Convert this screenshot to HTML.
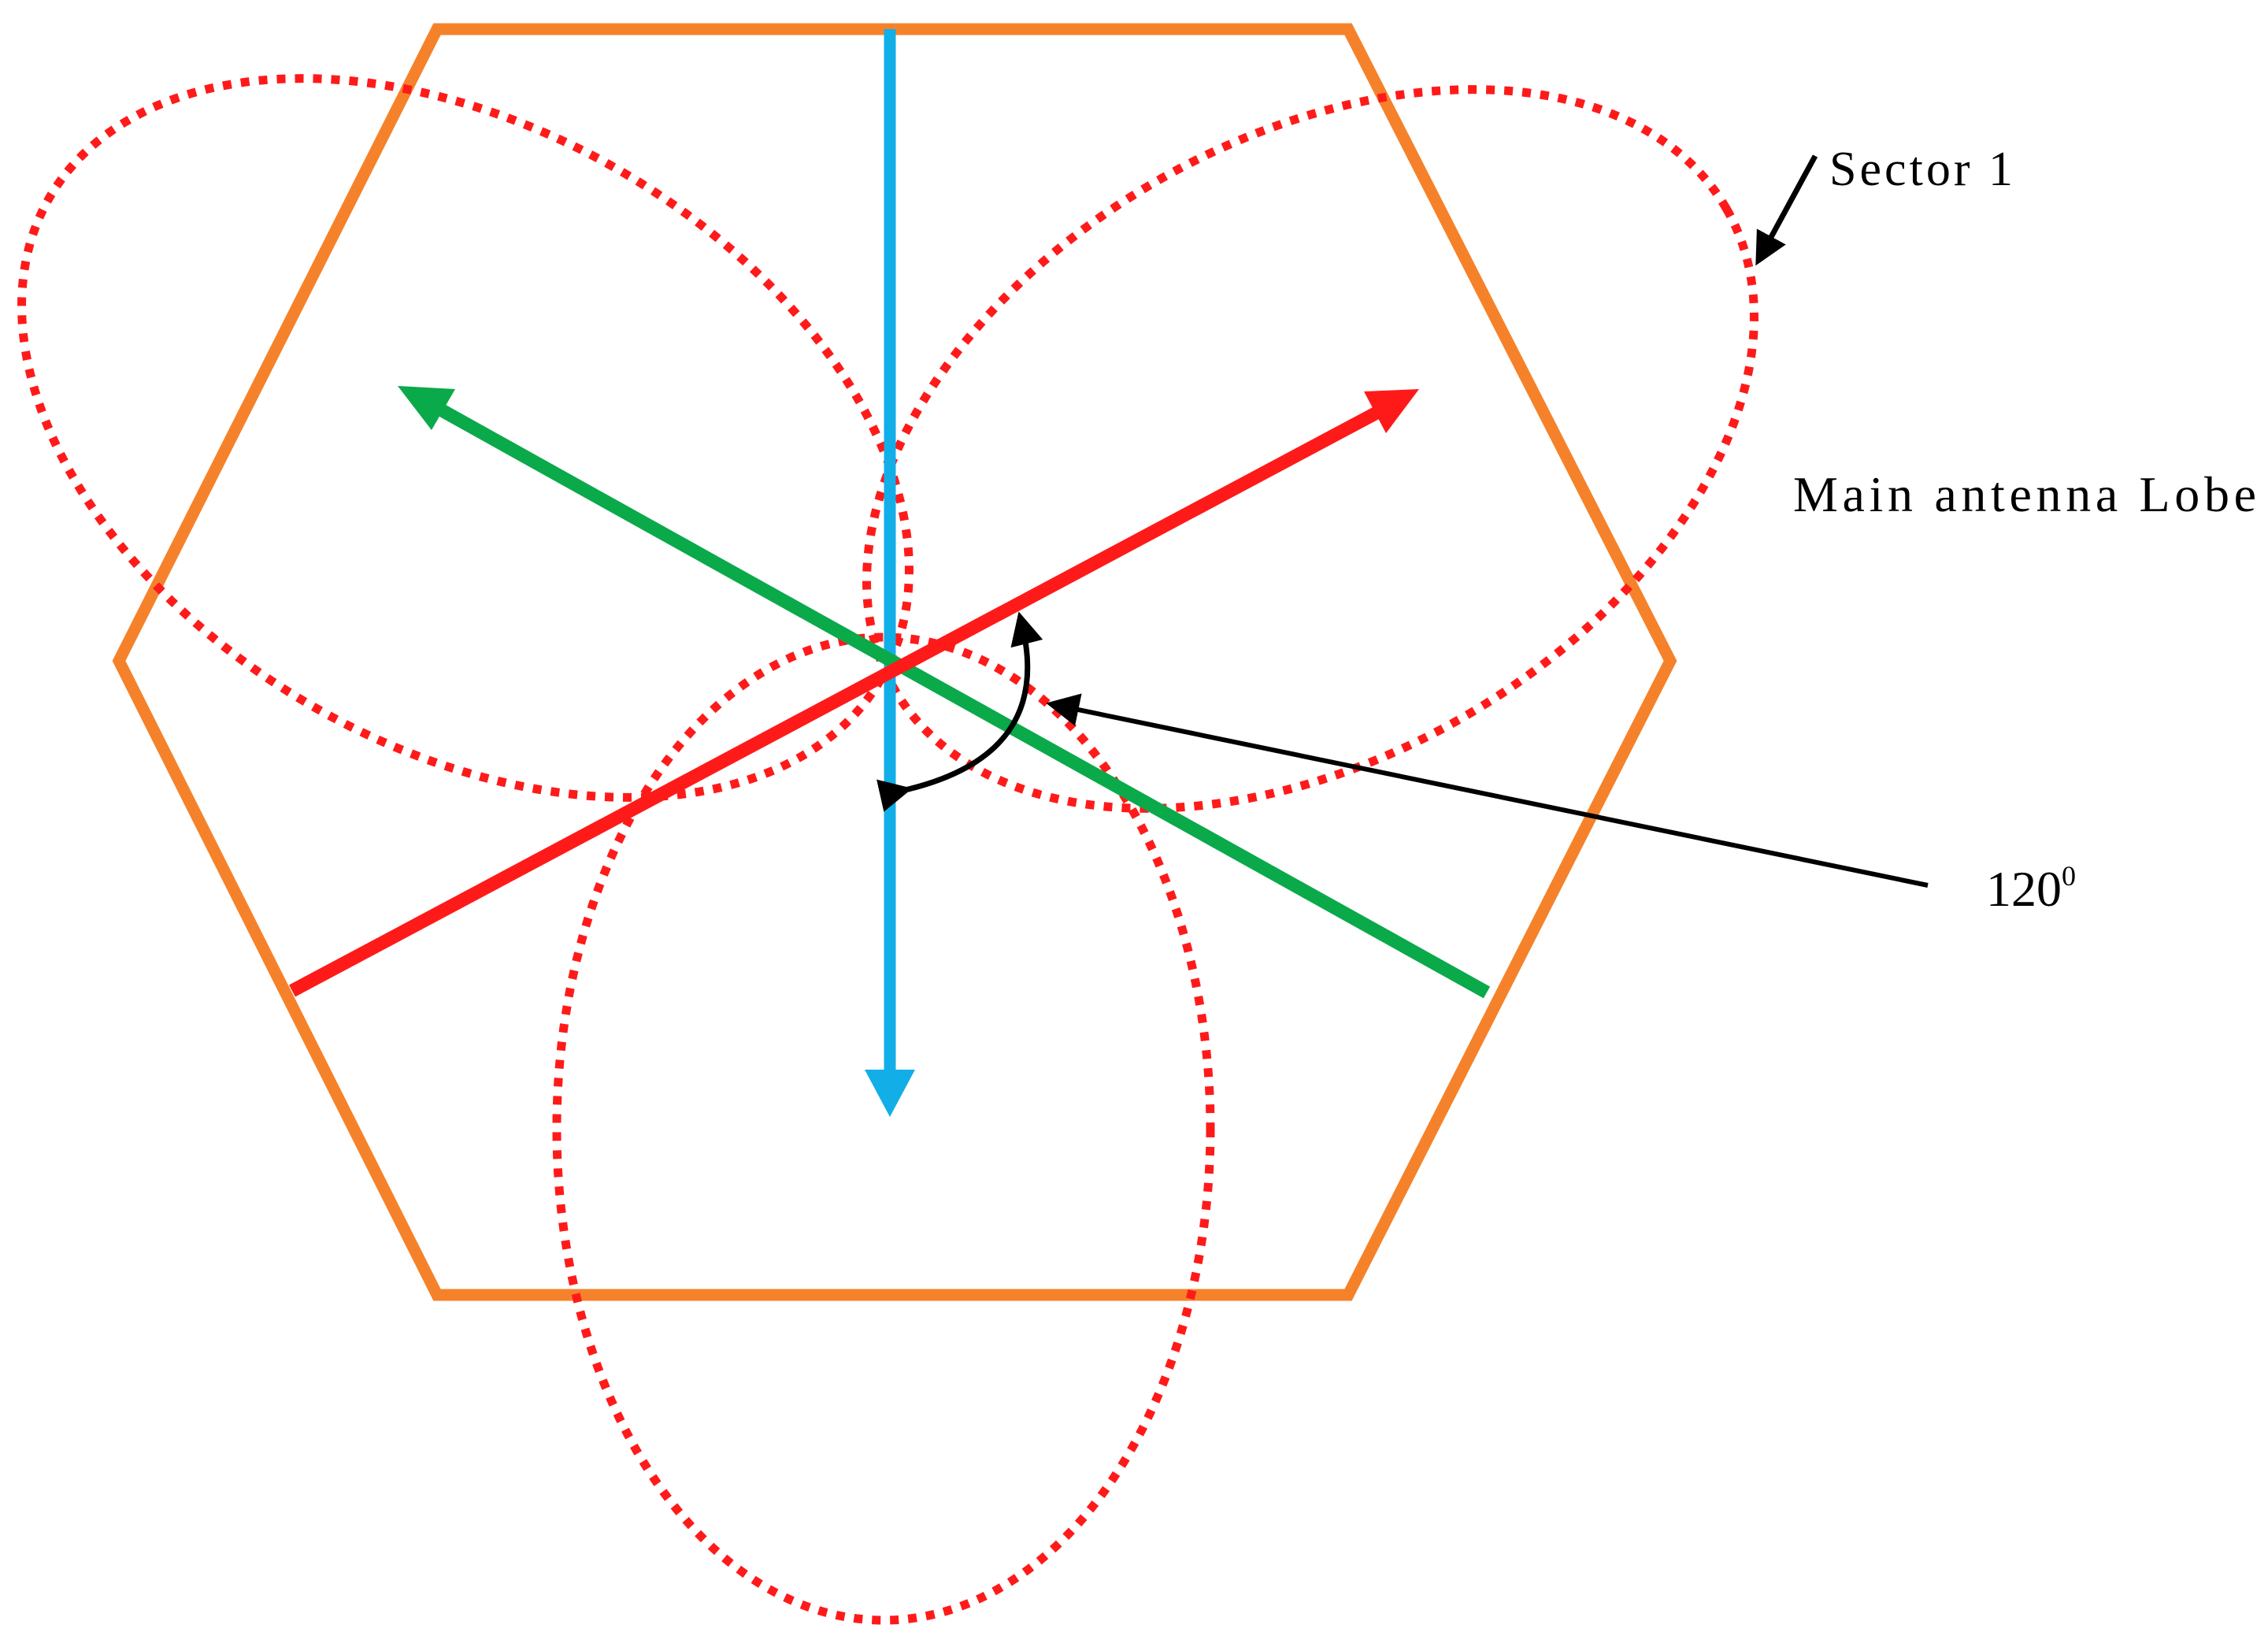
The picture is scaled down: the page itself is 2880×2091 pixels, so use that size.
<!DOCTYPE html>
<html><head><meta charset="utf-8"><style>html,body{margin:0;padding:0;background:#fff}svg{display:block}</style></head>
<body>
<svg width="2880" height="2091" viewBox="0 0 2880 2091" xmlns="http://www.w3.org/2000/svg">
<defs>
<marker id="ab" markerWidth="6" markerHeight="6" refX="4" refY="3" orient="auto" markerUnits="strokeWidth"><path d="M0,0 L6,3 L0,6 Z" fill="#000"/></marker>
<marker id="ab2" markerWidth="7" markerHeight="7" refX="5" refY="3.5" orient="auto" markerUnits="strokeWidth"><path d="M0,0 L7,3.5 L0,7 Z" fill="#000"/></marker>
</defs>
<polygon points="555,37 1712,37 2121,839 1712,1644 555,1644 151,839" fill="none" stroke="#f5822a" stroke-width="15"/>
<g fill="none" stroke="#ff1a1a" stroke-width="11" stroke-dasharray="11 12">
<ellipse cx="0" cy="0" rx="610" ry="392" transform="translate(591,556) rotate(30)"/>
<ellipse cx="0" cy="0" rx="610" ry="392" transform="translate(1664,570) rotate(-30)"/>
<ellipse cx="1122" cy="1433" rx="415" ry="624"/>
</g>
<line x1="1130" y1="37" x2="1130" y2="1370" stroke="#12aee8" stroke-width="15"/>
<polygon points="1098,1358 1162,1358 1130,1418" fill="#12aee8"/>
<line x1="1888" y1="1260" x2="545" y2="512" stroke="#0aa94a" stroke-width="17"/>
<polygon points="505,490 578,494 548,546" fill="#0aa94a"/>
<line x1="371" y1="1258" x2="1765" y2="515" stroke="#ff1a1a" stroke-width="17"/>
<polygon points="1802,494 1732,497 1760,550" fill="#ff1a1a"/>
<path d="M1145,1004 Q1340,960 1297,790" fill="none" stroke="#000" stroke-width="7" marker-start="url(#ab)" marker-end="url(#ab)"/>
<line x1="2448" y1="1124" x2="1340" y2="895" stroke="#000" stroke-width="6" marker-end="url(#ab2)"/>
<line x1="2305" y1="198" x2="2236" y2="325" stroke="#000" stroke-width="7" marker-end="url(#ab)"/>
<g font-family="'Liberation Serif',serif" fill="#000">
<text x="2323" y="235" font-size="62" textLength="233">Sector 1</text>
<text x="2277" y="649" font-size="64" textLength="588">Main antenna Lobe</text>
<text x="2522" y="1150" font-size="64">120<tspan font-size="36" dy="-26">0</tspan></text>
</g>
</svg>
</body></html>
